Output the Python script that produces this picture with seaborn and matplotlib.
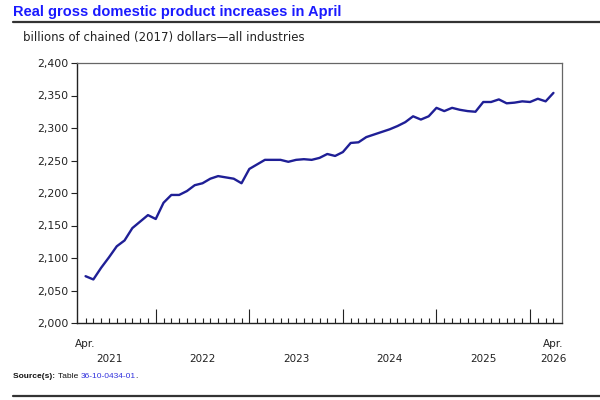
import numpy as np
import pandas as pd
import seaborn as sns
import matplotlib.pyplot as plt
from matplotlib.ticker import FixedLocator, FuncFormatter
import matplotlib.transforms as mtransforms

# Monthly real GDP, April 2021 to April 2026 (billions of chained 2017 dollars)
months = pd.date_range("2021-04-01", "2026-04-01", freq="MS")
gdp = [2072, 2067, 2085, 2101, 2118, 2127, 2146, 2156, 2166, 2160,
       2185, 2197, 2197, 2203, 2212, 2215, 2222, 2226, 2224, 2222,
       2215, 2237, 2244, 2251, 2251, 2251, 2248, 2251, 2252, 2251,
       2254, 2260, 2257, 2263, 2277, 2278, 2286, 2290, 2294, 2298,
       2303, 2309, 2318, 2313, 2318, 2331, 2326, 2331, 2328, 2326,
       2325, 2340, 2340, 2344, 2338, 2339, 2341, 2340, 2345, 2341,
       2354]
years = [2021, 2022, 2023, 2024, 2025, 2026]
y_ticks = [2000, 2050, 2100, 2150, 2200, 2250, 2300, 2350, 2400]

title = "Real gross domestic product increases in April"
subtitle = "billions of chained (2017) dollars\u2014all industries"

df = pd.DataFrame({"pos": np.arange(len(months)), "month": months, "gdp": gdp})

sns.set_style("white")
plt.rcParams["font.family"] = ["DejaVu Sans"]

fig = plt.figure(figsize=(6, 4), dpi=100)
ax = fig.add_axes([0.1283, 0.1925, 0.8084, 0.65])

sns.lineplot(data=df, x="pos", y="gdp", ax=ax, color="#1f1f96", linewidth=1.7)

ax.set_xlim(-1.1, 61.1)
ax.set_ylim(2000, 2400)
ax.set_xlabel("")
ax.set_ylabel("")

# y axis
ax.yaxis.set_major_locator(FixedLocator(y_ticks))
ax.yaxis.set_major_formatter(FuncFormatter(lambda v, p: f"{int(v):,}"))
ax.tick_params(axis="y", direction="out", length=4, width=0.8, color="#222222",
               labelsize=7.8, labelcolor="#222222", pad=2, left=True)

# x axis: month ticks, long tick at each January
jan_pos = df.loc[df["month"].dt.month == 1, "pos"].tolist()
ax.xaxis.set_major_locator(FixedLocator(jan_pos))
ax.xaxis.set_minor_locator(FixedLocator(df["pos"].tolist()))
ax.set_xticklabels([])
ax.tick_params(axis="x", which="major", direction="in", length=10, width=0.8,
               color="#222222", bottom=True)
ax.tick_params(axis="x", which="minor", direction="in", length=3.3, width=0.8,
               color="#222222", bottom=True)

for side in ["left", "bottom"]:
    ax.spines[side].set_color("#222222")
    ax.spines[side].set_linewidth(1.0)
for side in ["top", "right"]:
    ax.spines[side].set_color("#666666")
    ax.spines[side].set_linewidth(0.9)

# x labels
trans = mtransforms.blended_transform_factory(ax.transData, ax.transAxes)
ax.text(0, -0.06, "Apr.", transform=trans, ha="center", va="top", fontsize=7.5, color="#222222")
ax.text(60, -0.06, "Apr.", transform=trans, ha="center", va="top", fontsize=7.5, color="#222222")
year_pos = [3] + [p + 6 for p in jan_pos[:-1]] + [60]
for yr, xp in zip(years, year_pos):
    ax.text(xp, -0.118, str(yr), transform=trans, ha="center", va="top", fontsize=7.5, color="#222222")

# title, rules, subtitle
fig.text(0.022, 0.969, title, ha="left", va="center", fontsize=10.5, fontweight="bold",
         color="#1a1aff", family=["Liberation Sans", "DejaVu Sans"])
fig.add_artist(plt.Line2D([0.022, 1.0], [0.945, 0.945], color="#333333", linewidth=1.6))
fig.text(0.038, 0.905, subtitle, ha="left", va="center", fontsize=8.5, color="#222222")
fig.add_artist(plt.Line2D([0.022, 1.0], [0.01, 0.01], color="#333333", linewidth=1.6))

# source line in pieces
fig.canvas.draw()
renderer = fig.canvas.get_renderer()
parts = [("Source(s): ", "bold", "#111111"), ("Table ", "normal", "#111111"),
         ("36-10-0434-01", "normal", "#3333dd"), (".", "normal", "#111111")]
x = 0.022
for txt, wt, col in parts:
    t = fig.text(x, 0.058, txt, ha="left", va="center", fontsize=6, fontweight=wt,
                 color=col, family=["Liberation Sans", "DejaVu Sans"])
    bb = t.get_window_extent(renderer=renderer)
    x += bb.width / fig.bbox.width

fig.savefig("out.png", dpi=100)
